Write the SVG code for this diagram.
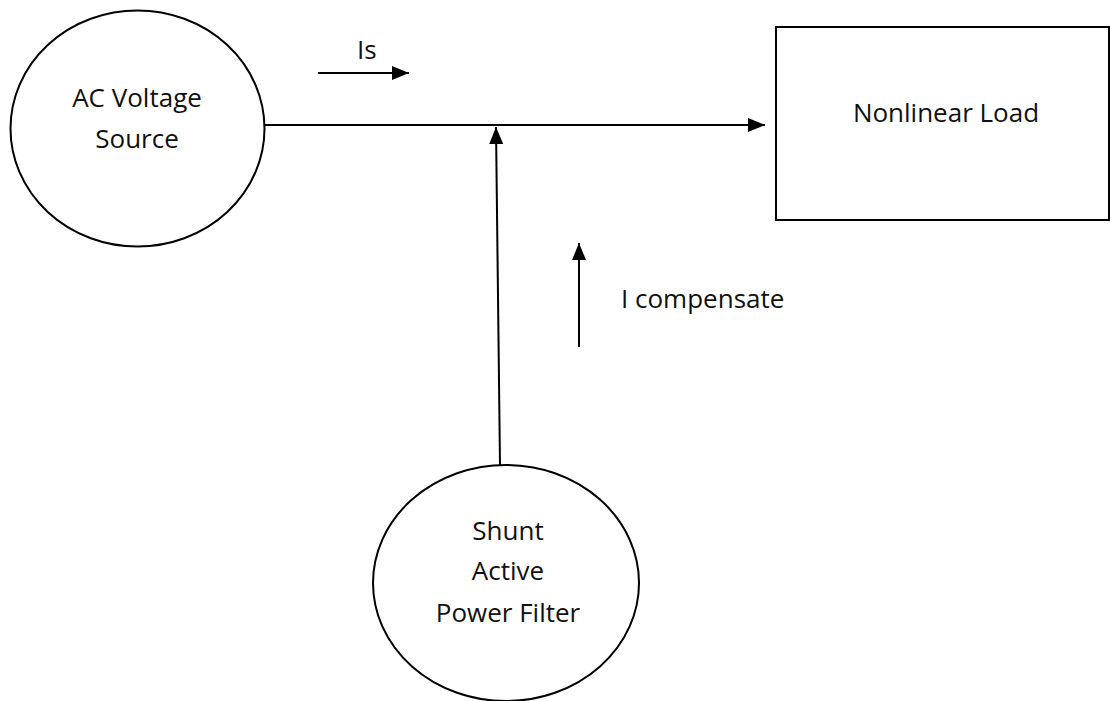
<svg xmlns="http://www.w3.org/2000/svg" width="1110" height="701" viewBox="0 0 1110 701">
<style>
.shape{fill:#fff;stroke:#000;stroke-width:2}
.wire{fill:none;stroke:#000;stroke-width:2}
.lbl{font-family:"Open Sans","Liberation Sans",sans-serif;font-size:26px;fill:#111}
.c{text-anchor:middle}
</style>
<defs>
<marker id="ah" markerUnits="userSpaceOnUse" markerWidth="17" markerHeight="14" refX="17" refY="7" orient="auto">
<path d="M0,0 L17,7 L0,14 z" fill="#000"/>
</marker>
</defs>
<rect width="1110" height="701" fill="#fff"/>
<g id="ac-source">
<ellipse class="shape" cx="137.5" cy="128.5" rx="127" ry="118"/>
<text class="lbl c" x="137" y="107">AC Voltage</text>
<text class="lbl c" x="137" y="148">Source</text>
</g>
<g id="nonlinear-load">
<rect class="shape" x="776" y="27" width="333" height="193"/>
<text class="lbl c" x="946" y="122">Nonlinear Load</text>
</g>
<g id="shunt-apf">
<ellipse class="shape" cx="506" cy="583" rx="133" ry="118"/>
<text class="lbl c" x="508" y="540">Shunt</text>
<text class="lbl c" x="508" y="580">Active</text>
<text class="lbl c" x="508" y="622">Power Filter</text>
</g>
<g id="connectors">
<line class="wire" x1="265" y1="125" x2="765" y2="125" marker-end="url(#ah)"/>
<line class="wire" x1="500" y1="465" x2="496" y2="127" marker-end="url(#ah)"/>
<line class="wire" x1="318" y1="73" x2="409" y2="73" marker-end="url(#ah)"/>
<line class="wire" x1="579" y1="347" x2="579" y2="243" marker-end="url(#ah)"/>
</g>
<g id="labels">
<text class="lbl" x="357" y="59">Is</text>
<text class="lbl" x="621" y="308">I compensate</text>
</g>
</svg>
